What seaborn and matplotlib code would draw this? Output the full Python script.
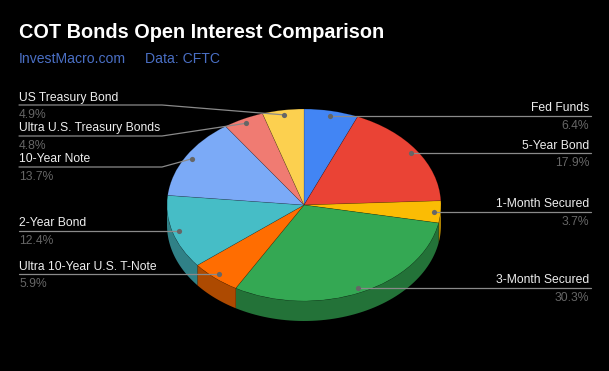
import numpy as np
import pandas as pd
import matplotlib
matplotlib.use("Agg")
import matplotlib.pyplot as plt
import seaborn as sns

# values, clockwise from the top
names = ['Fed Funds', '5-Year Bond', '1-Month Secured', '3-Month Secured',
         'Ultra 10-Year U.S. T-Note', '2-Year Bond', '10-Year Note',
         'Ultra U.S. Treasury Bonds', 'US Treasury Bond']
shares = [6.4, 17.9, 3.7, 30.3, 5.9, 12.4, 13.7, 4.8, 4.9]
colors = ['#4285F4', '#EA4335', '#FBBC04', '#34A853', '#FF6D01',
          '#46BDC6', '#7BAAF7', '#F07B72', '#FCD04F']

# pixel layout of the picture
W, H = 609, 371
cx, cy, rx, ry, depth = 304, 205, 137, 96, 20
# left side labels with a bent leader: y of the horizontal part
elbow_y = {'US Treasury Bond': 105, 'Ultra U.S. Treasury Bonds': 136, '10-Year Note': 167}

sns.set_theme(style="dark", rc={"figure.facecolor": "black", "axes.facecolor": "black"})
plt.rcParams['font.family'] = ['Liberation Sans', 'DejaVu Sans']

fig = plt.figure(figsize=(W / 100, H / 100), dpi=100)
ax = fig.add_axes([0, 0, 1, 1])

df = pd.DataFrame({'name': names, 'share': shares, 'color': colors})
total = df.share.sum()
df['start'] = df.share.cumsum().shift(fill_value=0) / total * 2 * np.pi
df['end'] = df.share.cumsum() / total * 2 * np.pi
df['mid'] = (df.start + df.end) / 2

# side wall of the 3d pie, only the part that faces the viewer
for _, row in df.iterrows():
    a0, a1 = max(row.start, np.pi / 2), min(row.end, 3 * np.pi / 2)
    if a1 <= a0:
        continue
    t = np.linspace(a0, a1, 60)
    xs = np.sin(t)
    ys = np.cos(t)
    dark = tuple(c * 0.68 for c in matplotlib.colors.to_rgb(row.color))
    ax.fill(np.r_[xs, xs[::-1]], np.r_[ys, ys[::-1] - depth / ry], color=dark, lw=0)

ax.pie(df.share, colors=df.color, startangle=90, counterclock=False,
       wedgeprops=dict(linewidth=0.4, edgecolor='#00000040'))

# unit circle -> squashed ellipse in the pixel frame
ax.set_aspect('auto')
ax.set_xlim(-cx / rx, (W - cx) / rx)
ax.set_ylim((cy - H) / ry, cy / ry)
ax.axis('off')


def to_data(px, py):
    return (px - cx) / rx, (cy - py) / ry


df['dot_x'] = 0.95 * np.sin(df.mid)
df['dot_y'] = 0.95 * np.cos(df.mid)

for _, row in df.iterrows():
    left = np.sin(row.mid) < 0
    line_y = elbow_y.get(row['name'])
    if line_y is None:
        line_y = cy - row.dot_y * ry
    x_edge = 19 if left else 591
    if left:
        x_txt, ha = 19, 'left'
    else:
        x_txt, ha = 589, 'right'
    pts = [to_data(x_edge, line_y)]
    if row['name'] in elbow_y:
        pts.append(to_data(162, line_y))
    pts.append((row.dot_x, row.dot_y))
    ax.plot(*zip(*pts), color='#8a8a8a', lw=0.9, zorder=4)
    ax.text(*to_data(x_txt, line_y - 7.5), row['name'], color='#eeeeee', fontsize=8.7,
            ha=ha, va='center')
    ax.text(*to_data(x_txt, line_y + 10), f"{row.share:.1f}%", color='#666666', fontsize=8.7,
            ha=ha, va='center')

sns.scatterplot(data=df, x='dot_x', y='dot_y', color='#666666', s=14, linewidth=0, zorder=5,
                ax=ax, legend=False)
ax.axis('off')

ax.text(*to_data(19, 32), 'COT Bonds Open Interest Comparison', color='white', fontsize=14.3,
        fontweight='bold', ha='left', va='center')
ax.text(*to_data(19, 59), 'InvestMacro.com', color='#4a6fc4', fontsize=10.1, ha='left', va='center')
ax.text(*to_data(145, 59), 'Data: CFTC', color='#4a6fc4', fontsize=10.1, ha='left', va='center')

fig.savefig('out.png', dpi=100, facecolor='black')
